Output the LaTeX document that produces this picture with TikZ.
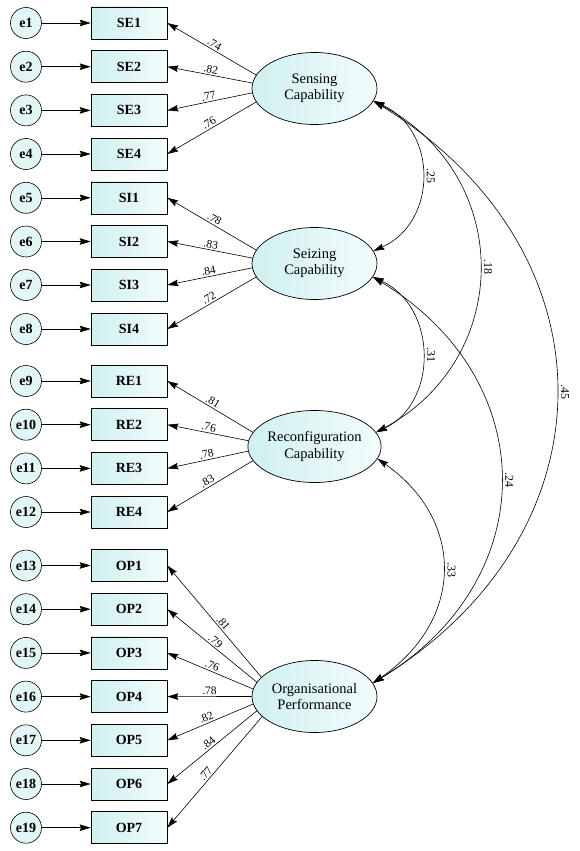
\documentclass[tikz,border=0pt]{standalone}
\usepackage{fontspec}
\setmainfont{Liberation Serif}
\usetikzlibrary{arrows.meta,shapes.geometric,calc}
\definecolor{fillL}{RGB}{208,240,240}
\definecolor{fillR}{RGB}{242,252,252}
\definecolor{circfill}{RGB}{226,246,246}
\begin{document}
\begin{tikzpicture}[x=1pt,y=-1pt,
  tip/.style={line width=0.6pt,-{Stealth[length=11pt,width=6.5pt,inset=1.5pt]}},
  dtip/.style={line width=0.6pt,{Stealth[length=11pt,width=6.5pt,inset=1.5pt]}-{Stealth[length=11pt,width=6.5pt,inset=1.5pt]}},
  errc/.style={circle,draw,line width=0.6pt,minimum size=31pt,inner sep=0pt,fill=circfill,font=\fontsize{14}{16}\selectfont\bfseries},
  ind/.style={rectangle,draw,line width=0.6pt,minimum width=76pt,minimum height=32pt,inner sep=0pt,left color=fillL,right color=fillR,font=\fontsize{14}{16}\selectfont\bfseries},
  lat/.style={ellipse,draw,line width=0.7pt,minimum width=125pt,minimum height=72pt,inner sep=0pt,align=center,left color=fillL,right color=fillR,font=\fontsize{14.5}{16.5}\selectfont},
  ld/.style={font=\fontsize{11.5}{13}\selectfont,sloped,above,pos=0.5,inner sep=1.5pt},
  cv/.style={font=\fontsize{12}{14}\selectfont,rotate=-90,anchor=south,pos=0.5,inner sep=4.5pt}
]
\useasboundingbox (0,0) rectangle (580,851);

\foreach \i/\n/\y in {1/SE1/23,2/SE2/66.7,3/SE3/110.4,4/SE4/154,
  5/SI1/197.8,6/SI2/241.5,7/SI3/285,8/SI4/329,
  9/RE1/381,10/RE2/424.7,11/RE3/468.4,12/RE4/512,
  13/OP1/565.5,14/OP2/609.2,15/OP3/652.9,16/OP4/696.6,17/OP5/740.3,18/OP6/784,19/OP7/827.7}{
  \node[errc] (e\i) at (26,\y) {e\i};
  \node[ind] (\n) at (129,\y) {\n};
  \draw[tip] (e\i) -- (\n);
}

\node[lat] (SC) at (314.5,88.5) {Sensing\\Capability};
\node[lat] (SZ) at (314.5,263.5) {Seizing\\Capability};
\node[lat] (RC) at (314.5,446.5) {Reconfiguration\\Capability};
\node[lat] (OPF) at (314.5,696.5) {Organisational\\Performance};

% loadings
\draw[tip] (SC.167) -- node[ld]{.74} (SE1.east);
\draw[tip] (SC.175) -- node[ld]{.82} (SE2.east);
\draw[tip] (SC.184) -- node[ld]{.77} (SE3.east);
\draw[tip] (SC.193) -- node[ld]{.76} (SE4.east);

\draw[tip] (SZ.167) -- node[ld]{.78} (SI1.east);
\draw[tip] (SZ.175) -- node[ld]{.83} (SI2.east);
\draw[tip] (SZ.184) -- node[ld]{.84} (SI3.east);
\draw[tip] (SZ.193) -- node[ld]{.72} (SI4.east);

\draw[tip] (RC.167) -- node[ld]{.81} (RE1.east);
\draw[tip] (RC.175) -- node[ld]{.76} (RE2.east);
\draw[tip] (RC.184) -- node[ld]{.78} (RE3.east);
\draw[tip] (RC.193) -- node[ld]{.83} (RE4.east);

\draw[tip] (OPF.160) -- node[ld,pos=0.45]{.81} (OP1.east);
\draw[tip] (OPF.166) -- node[ld,pos=0.5]{.79} (OP2.east);
\draw[tip] (OPF.173) -- node[ld]{.76} (OP3.east);
\draw[tip] (OPF.180) -- node[ld]{.78} (OP4.east);
\draw[tip] (OPF.187) -- node[ld,pos=0.52]{.82} (OP5.east);
\draw[tip] (OPF.194) -- node[ld,pos=0.5]{.84} (OP6.east);
\draw[tip] (OPF.201) -- node[ld,pos=0.55]{.77} (OP7.east);

% covariances
\draw[dtip] (SC.-12) .. controls (438,130) and (438,222) .. node[cv]{.25} (SZ.12);
\draw[dtip] (SC.-12) .. controls (514,175) and (514,358) .. node[cv]{.18} (RC.13);
\draw[dtip] (SC.-12) .. controls (617,250) and (617,533) .. node[cv]{.45} (OPF.13);
\draw[dtip] (SZ.-13) .. controls (438,307) and (438,403) .. node[cv]{.31} (RC.13);
\draw[dtip] (SZ.-13) .. controls (543,380) and (543,580) .. node[cv]{.24} (OPF.13);
\draw[dtip] (RC.-11) .. controls (465,520) and (465,620) .. node[cv]{.33} (OPF.13);
\end{tikzpicture}
\end{document}
